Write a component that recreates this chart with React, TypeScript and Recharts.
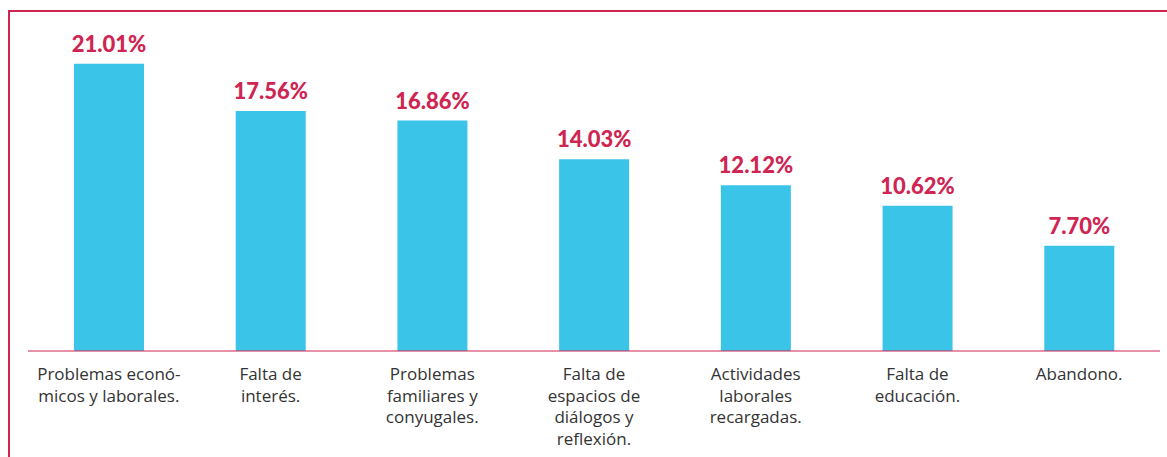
import React from 'react';
import { BarChart, Bar, XAxis, YAxis, LabelList } from 'recharts';

const categories: string[][] = [
  ['Problemas econó-', 'micos y laborales.'],
  ['Falta de', 'interés.'],
  ['Problemas', 'familiares y', 'conyugales.'],
  ['Falta de', 'espacios de', 'diálogos y', 'reflexión.'],
  ['Actividades', 'laborales', 'recargadas.'],
  ['Falta de', 'educación.'],
  ['Abandono.'],
];
const percentages = [21.01, 17.56, 16.86, 14.03, 12.12, 10.62, 7.7];

const data = categories.map((lines, i) => ({
  name: lines.join(' '),
  lines,
  value: percentages[i],
}));

const CRIMSON = '#cf2553';
const BAR_BLUE = '#3ac4e8';

const CategoryTick = (props: any) => {
  const { x, y, index } = props;
  const lines = categories[index] || [];
  return (
    <text
      x={x}
      y={y}
      textAnchor="middle"
      fill="#333"
      fontFamily="'Open Sans', sans-serif"
      fontSize={17}
    >
      {lines.map((line, i) => (
        <tspan key={i} x={x} y={y + 21 + i * 21.7}>
          {line}
        </tspan>
      ))}
    </text>
  );
};

const App: React.FC = () => {
  return (
    <div
      style={{
        position: 'fixed',
        left: 0,
        top: 0,
        width: 1167,
        height: 457,
        overflow: 'hidden',
        background: '#fff',
      }}
    >
      <div
        style={{
          position: 'absolute',
          left: 8,
          top: 10,
          width: 1200,
          height: 500,
          borderTop: `2px solid ${CRIMSON}`,
          borderLeft: `2px solid ${CRIMSON}`,
        }}
      />
      <div style={{ position: 'absolute', left: 0, top: 0 }}>
        <BarChart
          width={1167}
          height={457}
          data={data}
          margin={{ top: 23, right: 7, left: 28, bottom: 0 }}
        >
          <XAxis
            dataKey="name"
            height={106}
            interval={0}
            tickLine={false}
            axisLine={{ stroke: CRIMSON, strokeWidth: 1 }}
            tick={<CategoryTick />}
          />
          <YAxis hide domain={[0, 24]} />
          <Bar dataKey="value" fill={BAR_BLUE} barSize={70} isAnimationActive={false}>
            <LabelList
              dataKey="value"
              position="top"
              offset={12}
              formatter={(v: any) => `${Number(v).toFixed(2)}%`}
              fill={CRIMSON}
              fontFamily="Lato, sans-serif"
              fontWeight={900}
              fontSize={22}
            />
          </Bar>
        </BarChart>
      </div>
    </div>
  );
};

export default App;
